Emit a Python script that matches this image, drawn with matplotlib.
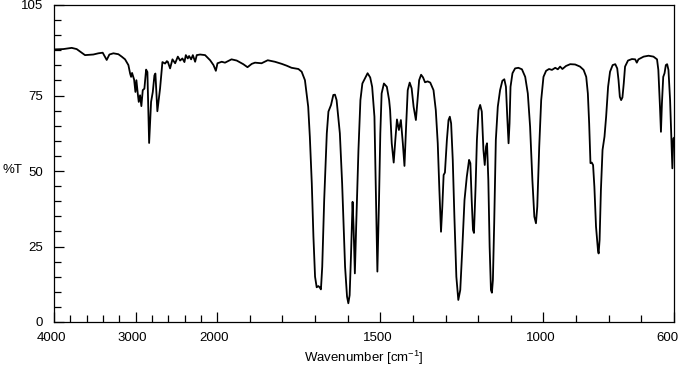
import numpy as np
import matplotlib
matplotlib.use("Agg")
import matplotlib.pyplot as plt
from matplotlib.ticker import FixedLocator
from matplotlib.transforms import ScaledTranslation

plt.rcParams['font.family'] = ['Liberation Sans', 'DejaVu Sans']
plt.rcParams['mathtext.default'] = 'regular'

# IR spectrum (wavenumber in cm-1, transmittance in %)
wavenumber = [
    3988, 3886, 3783, 3722, 3660, 3620, 3518, 3456, 3403, 3354, 3321, 3272,
    3211, 3170, 3129, 3088, 3067, 3055, 3043, 3018, 3002, 2990, 2973, 2961,
    2945, 2929, 2912, 2892, 2871, 2855, 2834, 2810, 2789, 2769, 2757, 2733,
    2700, 2671, 2638, 2617, 2605, 2577, 2548, 2515, 2482, 2454, 2426, 2401,
    2384, 2360, 2344, 2319, 2298, 2270, 2250, 2209, 2148, 2086, 2045, 2016,
    1999, 1986, 1976, 1956, 1940, 1920, 1907, 1894, 1884, 1864, 1845, 1823,
    1802, 1787, 1772, 1751, 1741, 1731, 1721, 1716, 1710, 1705, 1700, 1695,
    1690, 1686, 1682, 1678, 1672, 1664, 1659, 1651, 1644, 1639, 1634, 1624,
    1617, 1608, 1602, 1598, 1594, 1590, 1585, 1582, 1578, 1574, 1567, 1561,
    1555, 1547, 1539, 1531, 1525, 1518, 1514, 1509, 1504, 1500, 1496, 1489,
    1480, 1473, 1470, 1465, 1459, 1454, 1449, 1443, 1437, 1431, 1426, 1421,
    1416, 1410, 1404, 1398, 1391, 1386, 1381, 1375, 1369, 1363, 1355, 1347,
    1337, 1330, 1324, 1319, 1314, 1310, 1306, 1302, 1296, 1291, 1287, 1283,
    1278, 1273, 1267, 1261, 1255, 1249, 1242, 1235, 1228, 1224, 1220, 1216,
    1213, 1208, 1204, 1199, 1194, 1189, 1184, 1180, 1176, 1173, 1169, 1165,
    1161, 1158, 1155, 1151, 1146, 1140, 1133, 1126, 1120, 1115, 1111, 1107,
    1104, 1101, 1095, 1087, 1077, 1066, 1056, 1048, 1041, 1034, 1028, 1023,
    1019, 1013, 1007, 1000, 992, 983, 974, 964, 956, 949, 942, 931,
    918, 903, 888, 877, 869, 864, 860, 856, 852, 848, 844, 839,
    833, 831, 828, 824, 819, 813, 808, 802, 796, 788, 780, 774,
    770, 766, 762, 758, 754, 750, 741, 729, 719, 714, 709, 693,
    678, 663, 652, 648, 643, 640, 637, 633, 629, 625, 621, 617,
    612, 607, 605, 602, 600,
]
transmittance = [
    90.3, 90.4, 90.8, 90.4, 89.2, 88.4, 88.6, 89.0, 89.2, 86.8, 88.6, 89.0,
    88.7, 87.9, 87.0, 85.1, 82.3, 81.2, 82.5, 80.3, 76.2, 80.1, 75.6, 72.9,
    75.1, 71.5, 76.8, 77.3, 83.6, 82.8, 59.3, 72.9, 76.2, 81.7, 82.3, 69.8,
    77.3, 86.1, 85.6, 86.4, 86.2, 84.0, 87.0, 85.7, 87.9, 86.6, 87.3, 86.1,
    88.4, 87.3, 88.1, 87.0, 88.4, 86.2, 88.4, 88.6, 88.4, 86.7, 85.1, 83.2,
    85.7, 86.2, 85.9, 87.0, 86.6, 85.4, 84.4, 85.5, 85.9, 85.7, 86.7, 86.2,
    85.5, 84.9, 84.2, 83.8, 82.9, 80.1, 71.3, 61.4, 45.9, 28.3, 15.0, 11.5,
    11.9, 11.5, 10.8, 18.3, 40.4, 62.5, 69.7, 71.9, 75.2, 75.3, 73.5, 62.5,
    45.9, 18.3, 8.4, 6.2, 8.9, 21.6, 39.8, 31.6, 16.1, 31.6, 57.0, 73.5,
    79.0, 80.7, 82.4, 81.0, 77.9, 68.0, 45.9, 16.7, 40.4, 62.5, 75.7, 79.0,
    77.9, 73.5, 70.2, 59.2, 52.8, 60.3, 67.1, 63.6, 66.9, 59.2, 51.7, 64.7,
    76.8, 79.3, 77.4, 71.3, 66.9, 73.5, 80.1, 81.9, 81.0, 79.4, 79.7, 79.3,
    76.8, 70.2, 59.2, 43.7, 29.9, 38.2, 48.7, 49.5, 60.3, 66.9, 68.0, 65.8,
    53.7, 34.9, 15.0, 7.3, 10.6, 23.8, 40.4, 48.1, 53.7, 52.6, 40.4, 30.5,
    29.5, 45.0, 60.3, 70.2, 71.9, 69.7, 57.0, 52.0, 58.1, 59.2, 47.0, 24.9,
    10.6, 9.7, 13.9, 32.7, 60.3, 71.3, 76.8, 79.9, 80.4, 77.9, 68.0, 59.2,
    65.8, 77.9, 82.4, 84.0, 84.2, 83.7, 81.2, 75.7, 64.7, 47.0, 34.9, 32.7,
    38.2, 58.1, 73.5, 81.2, 83.2, 83.8, 83.5, 84.2, 83.7, 84.6, 83.8, 84.8,
    85.4, 85.3, 84.6, 83.5, 81.2, 75.7, 65.8, 52.6, 52.8, 52.0, 44.8, 31.6,
    23.8, 22.7, 27.2, 43.7, 57.0, 61.4, 68.0, 77.9, 82.9, 85.1, 85.4, 84.0,
    80.1, 74.6, 73.5, 74.4, 79.0, 84.6, 86.6, 87.1, 87.0, 85.9, 87.0, 87.9,
    88.2, 87.9, 87.0, 83.5, 71.3, 63.0, 72.4, 81.2, 82.4, 85.1, 85.4, 83.5,
    73.5, 57.0, 50.9, 60.8, 61.0,
]

x_major = [4000, 3000, 2000, 1500, 1000, 600]
x_labels = ['4000', '3000', '2000', '1500', '1000', '600']
x_minor = list(range(3800, 2000, -200)) + [1900, 1800, 1700, 1600, 1400, 1300,
                                          1200, 1100, 900, 800, 700]
y_major = [0, 25, 50, 75, 105]
y_minor = list(range(5, 105, 5))


# spectrum scale: below 2000 cm-1 the axis is expanded 4x
def fwd(w):
    w = np.asarray(w, dtype=float)
    return np.where(w >= 2000, w, 2000 + (w - 2000) * 4)


def inv(u):
    u = np.asarray(u, dtype=float)
    return np.where(u >= 2000, u, 2000 + (u - 2000) / 4)


fig = plt.figure(figsize=(6.83, 3.75), dpi=100)
ax = fig.add_axes([54 / 683, 53 / 375, 620 / 683, 317 / 375])

ax.set_xscale('function', functions=(fwd, inv))
ax.plot(wavenumber, transmittance, color='black', linewidth=1.3)

ax.set_xlim(4000, 600)
ax.set_ylim(0, 105)

ax.set_xticks(x_major, x_labels)
ax.xaxis.set_minor_locator(FixedLocator(x_minor))
ax.xaxis.set_minor_formatter(plt.NullFormatter())
ax.set_yticks(y_major, [str(v) for v in y_major])
ax.yaxis.set_minor_locator(FixedLocator(y_minor))

ax.tick_params(which='both', direction='in', labelsize=9.5, width=0.9, colors='black')
ax.tick_params(which='major', length=7)
ax.tick_params(which='minor', length=5)
ax.tick_params(axis='x', which='both', pad=7, top=False)
ax.tick_params(axis='y', which='both', pad=8, right=False)

# labels sit a little left of their ticks in the reference
for lbl in ax.get_xticklabels():
    dx = -7 if lbl.get_text() == '600' else -3
    lbl.set_transform(lbl.get_transform() + ScaledTranslation(dx / 100, 0, fig.dpi_scale_trans))

for sp in ax.spines.values():
    sp.set_linewidth(0.9)
    sp.set_color('black')

ax.set_xlabel('Wavenumber [cm$^{-1}$]', fontsize=9.5, labelpad=3.5)
ax.set_ylabel('%T', fontsize=9.5, rotation=0, ha='left', va='center')
ax.yaxis.set_label_coords(-0.083, 0.48)

fig.savefig('out.png', dpi=100)
